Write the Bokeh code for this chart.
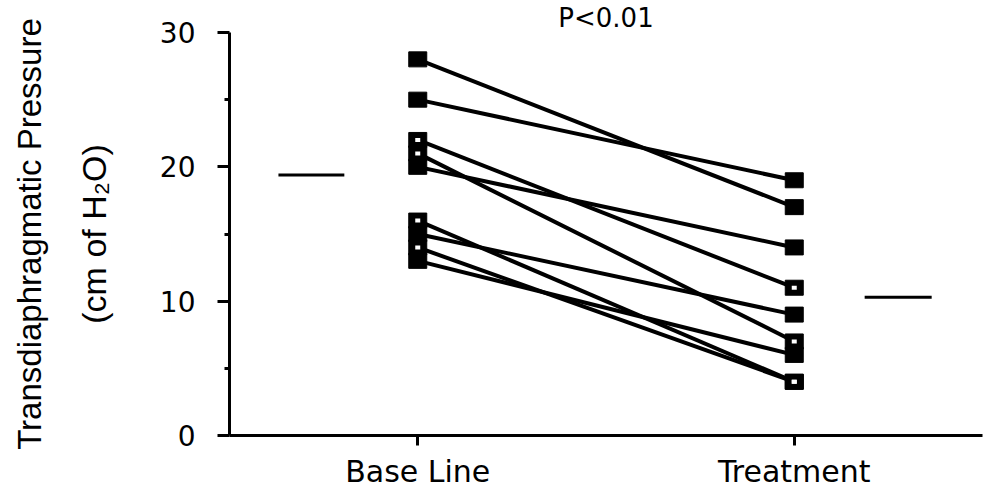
from bokeh.plotting import figure
from bokeh.models import Range1d, FixedTicker, LinearAxis
from bokeh.embed import file_html
from bokeh.resources import INLINE

# ---- data ----
categories = ["Base Line", "Treatment"]
baseline = [28, 25, 22, 21, 20, 16, 15, 14, 13]
treatment = [17, 19, 11, 7, 14, 4, 9, 4, 6]
baseline_open = [False, False, True, True, False, True, False, True, False]
treatment_open = [False, False, True, True, False, True, False, True, False]
group_means = [19.4, 10.3]
y_ticks = [0, 10, 20, 30]
y_minor_ticks = [5, 15, 25]
p_value_text = "P<0.01"
y_label_line1 = "Transdiaphragmatic Pressure"
y_label_line2 = "(cm of H\u2082O)"

# ---- layout ----
xpos = [i + 1 for i in range(len(categories))]
HFONT = "DejaVu Sans"
VFONT = "Liberation Sans"

p = figure(width=987, height=497, x_range=Range1d(0.5, 2.5),
           y_range=Range1d(y_ticks[0], y_ticks[-1]),
           x_axis_type=None, y_axis_type=None, output_backend="svg", toolbar_location=None,
           min_border_left=229, min_border_right=5, min_border_top=30, min_border_bottom=62,
           title=p_value_text)
p.outline_line_color = None
p.background_fill_color = "white"
p.border_fill_color = "white"
p.title.align = "center"
p.title.text_font = HFONT
p.title.text_font_size = "26px"
p.title.text_font_style = "normal"
p.title.text_color = "black"
p.title.standoff = 0
p.title.offset = -4

# y axis with ticks and the second label line
yax = LinearAxis(ticker=FixedTicker(ticks=y_ticks, minor_ticks=y_minor_ticks))
yax.axis_line_width = 3
yax.major_tick_line_width = 3
yax.minor_tick_line_width = 3
yax.major_tick_out = 12
yax.major_tick_in = 0
yax.minor_tick_out = 5
yax.minor_tick_in = 0
yax.major_label_standoff = 22
yax.major_label_text_font = HFONT
yax.major_label_text_font_size = "28px"
yax.major_label_text_color = "black"
yax.axis_label = y_label_line2
yax.axis_label_text_font = VFONT
yax.axis_label_text_font_size = "34px"
yax.axis_label_text_font_style = "normal"
yax.axis_label_text_color = "black"
yax.axis_label_standoff = 44
p.add_layout(yax, "left")

# outer axis carrying only the first label line
yax2 = LinearAxis(ticker=FixedTicker(ticks=[]))
yax2.axis_line_color = None
yax2.major_tick_line_color = None
yax2.minor_tick_line_color = None
yax2.major_tick_out = 0
yax2.minor_tick_out = 0
yax2.major_label_standoff = 0
yax2.axis_label = y_label_line1
yax2.axis_label_text_font = VFONT
yax2.axis_label_text_font_size = "33px"
yax2.axis_label_text_font_style = "normal"
yax2.axis_label_text_color = "black"
yax2.axis_label_standoff = 24
p.add_layout(yax2, "left")

# x axis
xax = LinearAxis(ticker=FixedTicker(ticks=xpos))
xax.major_label_overrides = {x: c for x, c in zip(xpos, categories)}
xax.axis_line_width = 3
xax.major_tick_line_width = 3
xax.major_tick_out = 10
xax.major_tick_in = 0
xax.minor_tick_line_color = None
xax.major_label_standoff = 8
xax.major_label_text_font = HFONT
xax.major_label_text_font_size = "30px"
xax.major_label_text_color = "black"
p.add_layout(xax, "below")

# paired lines
n = len(baseline)
p.segment(x0=[xpos[0]] * n, y0=baseline, x1=[xpos[1]] * n, y1=treatment,
          line_color="black", line_width=4)

# mean bars
p.segment(x0=[xpos[0] - 0.37, xpos[1] + 0.187], x1=[xpos[0] - 0.195, xpos[1] + 0.365],
          y0=group_means, y1=group_means, line_color="black", line_width=3)

# markers
for x, vals, opens in [(xpos[0], baseline, baseline_open), (xpos[1], treatment, treatment_open)]:
    p.rect(x=[x] * len(vals), y=vals, width=18, height=15, width_units="screen",
           height_units="screen", fill_color="black", line_color="black")
    ov = [v for v, o in zip(vals, opens) if o]
    p.rect(x=[x] * len(ov), y=ov, width=5, height=4, width_units="screen",
           height_units="screen", fill_color="white", line_color=None)

open("out.html", "w").write(file_html(p, INLINE))
